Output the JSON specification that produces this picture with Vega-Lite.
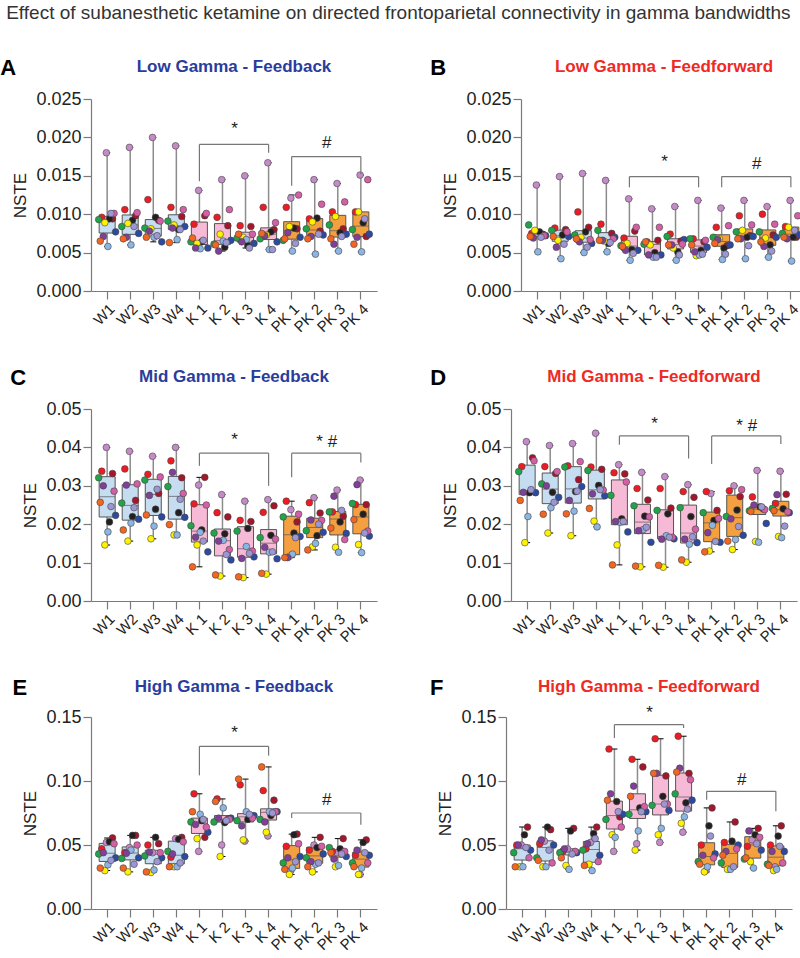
{
"$schema":"https://vega.github.io/schema/vega-lite/v6.json",
"padding":{"left":0,"top":4,"right":4,"bottom":0},
"title":{"text":"Effect of subanesthetic ketamine on directed frontoparietal connectivity in gamma bandwidths","fontSize":19,"fontWeight":"normal","color":"#333","anchor":"start","offset":34,"dx":6},
"datasets":{
"pts":[
{"p":"A","g":"W1","s":1,"v":0.0180},{"p":"A","g":"W1","s":2,"v":0.0096},{"p":"A","g":"W1","s":3,"v":0.0094},{"p":"A","g":"W1","s":4,"v":0.0094},{"p":"A","g":"W1","s":5,"v":0.0093},{"p":"A","g":"W1","s":6,"v":0.0089},{"p":"A","g":"W1","s":7,"v":0.0077},{"p":"A","g":"W1","s":8,"v":0.0058},{"p":"A","g":"W1","s":9,"v":0.0071},{"p":"A","g":"W1","s":10,"v":0.0065},{"p":"A","g":"W1","s":11,"v":0.0101},{"p":"A","g":"W1","s":12,"v":0.0101},
{"p":"A","g":"W2","s":1,"v":0.0187},{"p":"A","g":"W2","s":2,"v":0.0106},{"p":"A","g":"W2","s":3,"v":0.0098},{"p":"A","g":"W2","s":4,"v":0.0092},{"p":"A","g":"W2","s":5,"v":0.0084},{"p":"A","g":"W2","s":6,"v":0.0088},{"p":"A","g":"W2","s":7,"v":0.0075},{"p":"A","g":"W2","s":8,"v":0.0060},{"p":"A","g":"W2","s":9,"v":0.0070},{"p":"A","g":"W2","s":10,"v":0.0068},{"p":"A","g":"W2","s":11,"v":0.0102},{"p":"A","g":"W2","s":12,"v":0.0084},
{"p":"A","g":"W3","s":1,"v":0.0200},{"p":"A","g":"W3","s":2,"v":0.0119},{"p":"A","g":"W3","s":3,"v":0.0092},{"p":"A","g":"W3","s":4,"v":0.0096},{"p":"A","g":"W3","s":5,"v":0.0082},{"p":"A","g":"W3","s":6,"v":0.0081},{"p":"A","g":"W3","s":7,"v":0.0064},{"p":"A","g":"W3","s":8,"v":0.0070},{"p":"A","g":"W3","s":9,"v":0.0078},{"p":"A","g":"W3","s":10,"v":0.0070},{"p":"A","g":"W3","s":11,"v":0.0091},{"p":"A","g":"W3","s":12,"v":0.0072},
{"p":"A","g":"W4","s":1,"v":0.0189},{"p":"A","g":"W4","s":2,"v":0.0109},{"p":"A","g":"W4","s":3,"v":0.0097},{"p":"A","g":"W4","s":4,"v":0.0080},{"p":"A","g":"W4","s":5,"v":0.0091},{"p":"A","g":"W4","s":6,"v":0.0086},{"p":"A","g":"W4","s":7,"v":0.0084},{"p":"A","g":"W4","s":8,"v":0.0067},{"p":"A","g":"W4","s":9,"v":0.0082},{"p":"A","g":"W4","s":10,"v":0.0063},{"p":"A","g":"W4","s":11,"v":0.0106},{"p":"A","g":"W4","s":12,"v":0.0080},
{"p":"A","g":"K 1","s":1,"v":0.0131},{"p":"A","g":"K 1","s":2,"v":0.0087},{"p":"A","g":"K 1","s":3,"v":0.0098},{"p":"A","g":"K 1","s":4,"v":0.0064},{"p":"A","g":"K 1","s":5,"v":0.0064},{"p":"A","g":"K 1","s":6,"v":0.0062},{"p":"A","g":"K 1","s":7,"v":0.0056},{"p":"A","g":"K 1","s":8,"v":0.0055},{"p":"A","g":"K 1","s":9,"v":0.0056},{"p":"A","g":"K 1","s":10,"v":0.0069},{"p":"A","g":"K 1","s":11,"v":0.0101},{"p":"A","g":"K 1","s":12,"v":0.0066},
{"p":"A","g":"K 2","s":1,"v":0.0145},{"p":"A","g":"K 2","s":2,"v":0.0096},{"p":"A","g":"K 2","s":3,"v":0.0085},{"p":"A","g":"K 2","s":4,"v":0.0057},{"p":"A","g":"K 2","s":5,"v":0.0061},{"p":"A","g":"K 2","s":6,"v":0.0074},{"p":"A","g":"K 2","s":7,"v":0.0066},{"p":"A","g":"K 2","s":8,"v":0.0065},{"p":"A","g":"K 2","s":9,"v":0.0052},{"p":"A","g":"K 2","s":10,"v":0.0060},{"p":"A","g":"K 2","s":11,"v":0.0106},{"p":"A","g":"K 2","s":12,"v":0.0063},
{"p":"A","g":"K 3","s":1,"v":0.0150},{"p":"A","g":"K 3","s":2,"v":0.0085},{"p":"A","g":"K 3","s":3,"v":0.0084},{"p":"A","g":"K 3","s":4,"v":0.0059},{"p":"A","g":"K 3","s":5,"v":0.0069},{"p":"A","g":"K 3","s":6,"v":0.0070},{"p":"A","g":"K 3","s":7,"v":0.0062},{"p":"A","g":"K 3","s":8,"v":0.0067},{"p":"A","g":"K 3","s":9,"v":0.0064},{"p":"A","g":"K 3","s":10,"v":0.0074},{"p":"A","g":"K 3","s":11,"v":0.0074},{"p":"A","g":"K 3","s":12,"v":0.0056},
{"p":"A","g":"K 4","s":1,"v":0.0167},{"p":"A","g":"K 4","s":2,"v":0.0109},{"p":"A","g":"K 4","s":3,"v":0.0080},{"p":"A","g":"K 4","s":4,"v":0.0077},{"p":"A","g":"K 4","s":5,"v":0.0068},{"p":"A","g":"K 4","s":6,"v":0.0073},{"p":"A","g":"K 4","s":7,"v":0.0064},{"p":"A","g":"K 4","s":8,"v":0.0054},{"p":"A","g":"K 4","s":9,"v":0.0072},{"p":"A","g":"K 4","s":10,"v":0.0075},{"p":"A","g":"K 4","s":11,"v":0.0089},{"p":"A","g":"K 4","s":12,"v":0.0054},
{"p":"A","g":"PK 1","s":1,"v":0.0121},{"p":"A","g":"PK 1","s":2,"v":0.0109},{"p":"A","g":"PK 1","s":3,"v":0.0081},{"p":"A","g":"PK 1","s":4,"v":0.0082},{"p":"A","g":"PK 1","s":5,"v":0.0066},{"p":"A","g":"PK 1","s":6,"v":0.0084},{"p":"A","g":"PK 1","s":7,"v":0.0070},{"p":"A","g":"PK 1","s":8,"v":0.0052},{"p":"A","g":"PK 1","s":9,"v":0.0076},{"p":"A","g":"PK 1","s":10,"v":0.0068},{"p":"A","g":"PK 1","s":11,"v":0.0125},{"p":"A","g":"PK 1","s":12,"v":0.0062},
{"p":"A","g":"PK 2","s":1,"v":0.0145},{"p":"A","g":"PK 2","s":2,"v":0.0094},{"p":"A","g":"PK 2","s":3,"v":0.0078},{"p":"A","g":"PK 2","s":4,"v":0.0095},{"p":"A","g":"PK 2","s":5,"v":0.0081},{"p":"A","g":"PK 2","s":6,"v":0.0090},{"p":"A","g":"PK 2","s":7,"v":0.0073},{"p":"A","g":"PK 2","s":8,"v":0.0048},{"p":"A","g":"PK 2","s":9,"v":0.0071},{"p":"A","g":"PK 2","s":10,"v":0.0068},{"p":"A","g":"PK 2","s":11,"v":0.0113},{"p":"A","g":"PK 2","s":12,"v":0.0074},
{"p":"A","g":"PK 3","s":1,"v":0.0140},{"p":"A","g":"PK 3","s":2,"v":0.0103},{"p":"A","g":"PK 3","s":3,"v":0.0081},{"p":"A","g":"PK 3","s":4,"v":0.0076},{"p":"A","g":"PK 3","s":5,"v":0.0086},{"p":"A","g":"PK 3","s":6,"v":0.0097},{"p":"A","g":"PK 3","s":7,"v":0.0074},{"p":"A","g":"PK 3","s":8,"v":0.0052},{"p":"A","g":"PK 3","s":9,"v":0.0061},{"p":"A","g":"PK 3","s":10,"v":0.0068},{"p":"A","g":"PK 3","s":11,"v":0.0116},{"p":"A","g":"PK 3","s":12,"v":0.0071},
{"p":"A","g":"PK 4","s":1,"v":0.0151},{"p":"A","g":"PK 4","s":2,"v":0.0103},{"p":"A","g":"PK 4","s":3,"v":0.0071},{"p":"A","g":"PK 4","s":4,"v":0.0089},{"p":"A","g":"PK 4","s":5,"v":0.0080},{"p":"A","g":"PK 4","s":6,"v":0.0103},{"p":"A","g":"PK 4","s":7,"v":0.0074},{"p":"A","g":"PK 4","s":8,"v":0.0051},{"p":"A","g":"PK 4","s":9,"v":0.0070},{"p":"A","g":"PK 4","s":10,"v":0.0061},{"p":"A","g":"PK 4","s":11,"v":0.0145},{"p":"A","g":"PK 4","s":12,"v":0.0094},

{"p":"B","g":"W1","s":1,"v":0.0138},{"p":"B","g":"W1","s":2,"v":0.0075},{"p":"B","g":"W1","s":3,"v":0.0074},{"p":"B","g":"W1","s":4,"v":0.0077},{"p":"B","g":"W1","s":5,"v":0.0086},{"p":"B","g":"W1","s":6,"v":0.0079},{"p":"B","g":"W1","s":7,"v":0.0072},{"p":"B","g":"W1","s":8,"v":0.0051},{"p":"B","g":"W1","s":9,"v":0.0069},{"p":"B","g":"W1","s":10,"v":0.0071},{"p":"B","g":"W1","s":11,"v":0.0072},{"p":"B","g":"W1","s":12,"v":0.0070},
{"p":"B","g":"W2","s":1,"v":0.0149},{"p":"B","g":"W2","s":2,"v":0.0082},{"p":"B","g":"W2","s":3,"v":0.0080},{"p":"B","g":"W2","s":4,"v":0.0073},{"p":"B","g":"W2","s":5,"v":0.0079},{"p":"B","g":"W2","s":6,"v":0.0066},{"p":"B","g":"W2","s":7,"v":0.0071},{"p":"B","g":"W2","s":8,"v":0.0042},{"p":"B","g":"W2","s":9,"v":0.0057},{"p":"B","g":"W2","s":10,"v":0.0071},{"p":"B","g":"W2","s":11,"v":0.0077},{"p":"B","g":"W2","s":12,"v":0.0061},
{"p":"B","g":"W3","s":1,"v":0.0153},{"p":"B","g":"W3","s":2,"v":0.0103},{"p":"B","g":"W3","s":3,"v":0.0083},{"p":"B","g":"W3","s":4,"v":0.0077},{"p":"B","g":"W3","s":5,"v":0.0073},{"p":"B","g":"W3","s":6,"v":0.0070},{"p":"B","g":"W3","s":7,"v":0.0062},{"p":"B","g":"W3","s":8,"v":0.0050},{"p":"B","g":"W3","s":9,"v":0.0064},{"p":"B","g":"W3","s":10,"v":0.0068},{"p":"B","g":"W3","s":11,"v":0.0067},{"p":"B","g":"W3","s":12,"v":0.0057},
{"p":"B","g":"W4","s":1,"v":0.0144},{"p":"B","g":"W4","s":2,"v":0.0087},{"p":"B","g":"W4","s":3,"v":0.0075},{"p":"B","g":"W4","s":4,"v":0.0062},{"p":"B","g":"W4","s":5,"v":0.0079},{"p":"B","g":"W4","s":6,"v":0.0065},{"p":"B","g":"W4","s":7,"v":0.0070},{"p":"B","g":"W4","s":8,"v":0.0051},{"p":"B","g":"W4","s":9,"v":0.0066},{"p":"B","g":"W4","s":10,"v":0.0066},{"p":"B","g":"W4","s":11,"v":0.0068},{"p":"B","g":"W4","s":12,"v":0.0063},
{"p":"B","g":"K 1","s":1,"v":0.0120},{"p":"B","g":"K 1","s":2,"v":0.0069},{"p":"B","g":"K 1","s":3,"v":0.0078},{"p":"B","g":"K 1","s":4,"v":0.0054},{"p":"B","g":"K 1","s":5,"v":0.0059},{"p":"B","g":"K 1","s":6,"v":0.0062},{"p":"B","g":"K 1","s":7,"v":0.0053},{"p":"B","g":"K 1","s":8,"v":0.0040},{"p":"B","g":"K 1","s":9,"v":0.0053},{"p":"B","g":"K 1","s":10,"v":0.0058},{"p":"B","g":"K 1","s":11,"v":0.0083},{"p":"B","g":"K 1","s":12,"v":0.0049},
{"p":"B","g":"K 2","s":1,"v":0.0107},{"p":"B","g":"K 2","s":2,"v":0.0064},{"p":"B","g":"K 2","s":3,"v":0.0066},{"p":"B","g":"K 2","s":4,"v":0.0050},{"p":"B","g":"K 2","s":5,"v":0.0061},{"p":"B","g":"K 2","s":6,"v":0.0060},{"p":"B","g":"K 2","s":7,"v":0.0047},{"p":"B","g":"K 2","s":8,"v":0.0044},{"p":"B","g":"K 2","s":9,"v":0.0047},{"p":"B","g":"K 2","s":10,"v":0.0064},{"p":"B","g":"K 2","s":11,"v":0.0083},{"p":"B","g":"K 2","s":12,"v":0.0044},
{"p":"B","g":"K 3","s":1,"v":0.0110},{"p":"B","g":"K 3","s":2,"v":0.0074},{"p":"B","g":"K 3","s":3,"v":0.0065},{"p":"B","g":"K 3","s":4,"v":0.0051},{"p":"B","g":"K 3","s":5,"v":0.0071},{"p":"B","g":"K 3","s":6,"v":0.0056},{"p":"B","g":"K 3","s":7,"v":0.0067},{"p":"B","g":"K 3","s":8,"v":0.0040},{"p":"B","g":"K 3","s":9,"v":0.0060},{"p":"B","g":"K 3","s":10,"v":0.0060},{"p":"B","g":"K 3","s":11,"v":0.0061},{"p":"B","g":"K 3","s":12,"v":0.0047},
{"p":"B","g":"K 4","s":1,"v":0.0118},{"p":"B","g":"K 4","s":2,"v":0.0068},{"p":"B","g":"K 4","s":3,"v":0.0064},{"p":"B","g":"K 4","s":4,"v":0.0053},{"p":"B","g":"K 4","s":5,"v":0.0068},{"p":"B","g":"K 4","s":6,"v":0.0046},{"p":"B","g":"K 4","s":7,"v":0.0057},{"p":"B","g":"K 4","s":8,"v":0.0047},{"p":"B","g":"K 4","s":9,"v":0.0051},{"p":"B","g":"K 4","s":10,"v":0.0060},{"p":"B","g":"K 4","s":11,"v":0.0066},{"p":"B","g":"K 4","s":12,"v":0.0048},
{"p":"B","g":"PK 1","s":1,"v":0.0108},{"p":"B","g":"PK 1","s":2,"v":0.0083},{"p":"B","g":"PK 1","s":3,"v":0.0059},{"p":"B","g":"PK 1","s":4,"v":0.0056},{"p":"B","g":"PK 1","s":5,"v":0.0070},{"p":"B","g":"PK 1","s":6,"v":0.0068},{"p":"B","g":"PK 1","s":7,"v":0.0060},{"p":"B","g":"PK 1","s":8,"v":0.0041},{"p":"B","g":"PK 1","s":9,"v":0.0067},{"p":"B","g":"PK 1","s":10,"v":0.0062},{"p":"B","g":"PK 1","s":11,"v":0.0085},{"p":"B","g":"PK 1","s":12,"v":0.0048},
{"p":"B","g":"PK 2","s":1,"v":0.0118},{"p":"B","g":"PK 2","s":2,"v":0.0098},{"p":"B","g":"PK 2","s":3,"v":0.0072},{"p":"B","g":"PK 2","s":4,"v":0.0070},{"p":"B","g":"PK 2","s":5,"v":0.0077},{"p":"B","g":"PK 2","s":6,"v":0.0079},{"p":"B","g":"PK 2","s":7,"v":0.0071},{"p":"B","g":"PK 2","s":8,"v":0.0042},{"p":"B","g":"PK 2","s":9,"v":0.0068},{"p":"B","g":"PK 2","s":10,"v":0.0068},{"p":"B","g":"PK 2","s":11,"v":0.0086},{"p":"B","g":"PK 2","s":12,"v":0.0059},
{"p":"B","g":"PK 3","s":1,"v":0.0110},{"p":"B","g":"PK 3","s":2,"v":0.0100},{"p":"B","g":"PK 3","s":3,"v":0.0073},{"p":"B","g":"PK 3","s":4,"v":0.0060},{"p":"B","g":"PK 3","s":5,"v":0.0077},{"p":"B","g":"PK 3","s":6,"v":0.0069},{"p":"B","g":"PK 3","s":7,"v":0.0070},{"p":"B","g":"PK 3","s":8,"v":0.0044},{"p":"B","g":"PK 3","s":9,"v":0.0058},{"p":"B","g":"PK 3","s":10,"v":0.0064},{"p":"B","g":"PK 3","s":11,"v":0.0087},{"p":"B","g":"PK 3","s":12,"v":0.0052},
{"p":"B","g":"PK 4","s":1,"v":0.0118},{"p":"B","g":"PK 4","s":2,"v":0.0084},{"p":"B","g":"PK 4","s":3,"v":0.0070},{"p":"B","g":"PK 4","s":4,"v":0.0070},{"p":"B","g":"PK 4","s":5,"v":0.0075},{"p":"B","g":"PK 4","s":6,"v":0.0083},{"p":"B","g":"PK 4","s":7,"v":0.0073},{"p":"B","g":"PK 4","s":8,"v":0.0039},{"p":"B","g":"PK 4","s":9,"v":0.0068},{"p":"B","g":"PK 4","s":10,"v":0.0070},{"p":"B","g":"PK 4","s":11,"v":0.0098},{"p":"B","g":"PK 4","s":12,"v":0.0079},

{"p":"C","g":"W1","s":1,"v":0.0400},{"p":"C","g":"W1","s":2,"v":0.0338},{"p":"C","g":"W1","s":3,"v":0.0332},{"p":"C","g":"W1","s":4,"v":0.0206},{"p":"C","g":"W1","s":5,"v":0.0321},{"p":"C","g":"W1","s":6,"v":0.0146},{"p":"C","g":"W1","s":7,"v":0.0223},{"p":"C","g":"W1","s":8,"v":0.0180},{"p":"C","g":"W1","s":9,"v":0.0300},{"p":"C","g":"W1","s":10,"v":0.0257},{"p":"C","g":"W1","s":11,"v":0.0286},{"p":"C","g":"W1","s":12,"v":0.0246},
{"p":"C","g":"W2","s":1,"v":0.0390},{"p":"C","g":"W2","s":2,"v":0.0344},{"p":"C","g":"W2","s":3,"v":0.0262},{"p":"C","g":"W2","s":4,"v":0.0220},{"p":"C","g":"W2","s":5,"v":0.0255},{"p":"C","g":"W2","s":6,"v":0.0156},{"p":"C","g":"W2","s":7,"v":0.0213},{"p":"C","g":"W2","s":8,"v":0.0203},{"p":"C","g":"W2","s":9,"v":0.0302},{"p":"C","g":"W2","s":10,"v":0.0185},{"p":"C","g":"W2","s":11,"v":0.0305},{"p":"C","g":"W2","s":12,"v":0.0243},
{"p":"C","g":"W3","s":1,"v":0.0377},{"p":"C","g":"W3","s":2,"v":0.0330},{"p":"C","g":"W3","s":3,"v":0.0280},{"p":"C","g":"W3","s":4,"v":0.0239},{"p":"C","g":"W3","s":5,"v":0.0315},{"p":"C","g":"W3","s":6,"v":0.0162},{"p":"C","g":"W3","s":7,"v":0.0219},{"p":"C","g":"W3","s":8,"v":0.0195},{"p":"C","g":"W3","s":9,"v":0.0275},{"p":"C","g":"W3","s":10,"v":0.0224},{"p":"C","g":"W3","s":11,"v":0.0323},{"p":"C","g":"W3","s":12,"v":0.0291},
{"p":"C","g":"W4","s":1,"v":0.0400},{"p":"C","g":"W4","s":2,"v":0.0365},{"p":"C","g":"W4","s":3,"v":0.0321},{"p":"C","g":"W4","s":4,"v":0.0230},{"p":"C","g":"W4","s":5,"v":0.0298},{"p":"C","g":"W4","s":6,"v":0.0172},{"p":"C","g":"W4","s":7,"v":0.0218},{"p":"C","g":"W4","s":8,"v":0.0172},{"p":"C","g":"W4","s":9,"v":0.0335},{"p":"C","g":"W4","s":10,"v":0.0199},{"p":"C","g":"W4","s":11,"v":0.0280},{"p":"C","g":"W4","s":12,"v":0.0265},
{"p":"C","g":"K 1","s":1,"v":0.0302},{"p":"C","g":"K 1","s":2,"v":0.0253},{"p":"C","g":"K 1","s":3,"v":0.0322},{"p":"C","g":"K 1","s":4,"v":0.0185},{"p":"C","g":"K 1","s":5,"v":0.0196},{"p":"C","g":"K 1","s":6,"v":0.0146},{"p":"C","g":"K 1","s":7,"v":0.0128},{"p":"C","g":"K 1","s":8,"v":0.0179},{"p":"C","g":"K 1","s":9,"v":0.0166},{"p":"C","g":"K 1","s":10,"v":0.0089},{"p":"C","g":"K 1","s":11,"v":0.0250},{"p":"C","g":"K 1","s":12,"v":0.0156},
{"p":"C","g":"K 2","s":1,"v":0.0277},{"p":"C","g":"K 2","s":2,"v":0.0230},{"p":"C","g":"K 2","s":3,"v":0.0219},{"p":"C","g":"K 2","s":4,"v":0.0175},{"p":"C","g":"K 2","s":5,"v":0.0177},{"p":"C","g":"K 2","s":6,"v":0.0065},{"p":"C","g":"K 2","s":7,"v":0.0107},{"p":"C","g":"K 2","s":8,"v":0.0158},{"p":"C","g":"K 2","s":9,"v":0.0156},{"p":"C","g":"K 2","s":10,"v":0.0068},{"p":"C","g":"K 2","s":11,"v":0.0134},{"p":"C","g":"K 2","s":12,"v":0.0121},
{"p":"C","g":"K 3","s":1,"v":0.0260},{"p":"C","g":"K 3","s":2,"v":0.0210},{"p":"C","g":"K 3","s":3,"v":0.0207},{"p":"C","g":"K 3","s":4,"v":0.0189},{"p":"C","g":"K 3","s":5,"v":0.0182},{"p":"C","g":"K 3","s":6,"v":0.0061},{"p":"C","g":"K 3","s":7,"v":0.0115},{"p":"C","g":"K 3","s":8,"v":0.0142},{"p":"C","g":"K 3","s":9,"v":0.0111},{"p":"C","g":"K 3","s":10,"v":0.0063},{"p":"C","g":"K 3","s":11,"v":0.0130},{"p":"C","g":"K 3","s":12,"v":0.0124},
{"p":"C","g":"K 4","s":1,"v":0.0264},{"p":"C","g":"K 4","s":2,"v":0.0231},{"p":"C","g":"K 4","s":3,"v":0.0248},{"p":"C","g":"K 4","s":4,"v":0.0171},{"p":"C","g":"K 4","s":5,"v":0.0165},{"p":"C","g":"K 4","s":6,"v":0.0070},{"p":"C","g":"K 4","s":7,"v":0.0110},{"p":"C","g":"K 4","s":8,"v":0.0127},{"p":"C","g":"K 4","s":9,"v":0.0140},{"p":"C","g":"K 4","s":10,"v":0.0072},{"p":"C","g":"K 4","s":11,"v":0.0161},{"p":"C","g":"K 4","s":12,"v":0.0128},
{"p":"C","g":"PK 1","s":1,"v":0.0238},{"p":"C","g":"PK 1","s":2,"v":0.0260},{"p":"C","g":"PK 1","s":3,"v":0.0206},{"p":"C","g":"PK 1","s":4,"v":0.0177},{"p":"C","g":"PK 1","s":5,"v":0.0219},{"p":"C","g":"PK 1","s":6,"v":0.0116},{"p":"C","g":"PK 1","s":7,"v":0.0168},{"p":"C","g":"PK 1","s":8,"v":0.0122},{"p":"C","g":"PK 1","s":9,"v":0.0113},{"p":"C","g":"PK 1","s":10,"v":0.0113},{"p":"C","g":"PK 1","s":11,"v":0.0226},{"p":"C","g":"PK 1","s":12,"v":0.0165},
{"p":"C","g":"PK 2","s":1,"v":0.0269},{"p":"C","g":"PK 2","s":2,"v":0.0256},{"p":"C","g":"PK 2","s":3,"v":0.0229},{"p":"C","g":"PK 2","s":4,"v":0.0170},{"p":"C","g":"PK 2","s":5,"v":0.0183},{"p":"C","g":"PK 2","s":6,"v":0.0141},{"p":"C","g":"PK 2","s":7,"v":0.0179},{"p":"C","g":"PK 2","s":8,"v":0.0150},{"p":"C","g":"PK 2","s":9,"v":0.0211},{"p":"C","g":"PK 2","s":10,"v":0.0133},{"p":"C","g":"PK 2","s":11,"v":0.0210},{"p":"C","g":"PK 2","s":12,"v":0.0200},
{"p":"C","g":"PK 3","s":1,"v":0.0289},{"p":"C","g":"PK 3","s":2,"v":0.0232},{"p":"C","g":"PK 3","s":3,"v":0.0221},{"p":"C","g":"PK 3","s":4,"v":0.0206},{"p":"C","g":"PK 3","s":5,"v":0.0232},{"p":"C","g":"PK 3","s":6,"v":0.0140},{"p":"C","g":"PK 3","s":7,"v":0.0176},{"p":"C","g":"PK 3","s":8,"v":0.0127},{"p":"C","g":"PK 3","s":9,"v":0.0273},{"p":"C","g":"PK 3","s":10,"v":0.0190},{"p":"C","g":"PK 3","s":11,"v":0.0160},{"p":"C","g":"PK 3","s":12,"v":0.0236},
{"p":"C","g":"PK 4","s":1,"v":0.0315},{"p":"C","g":"PK 4","s":2,"v":0.0251},{"p":"C","g":"PK 4","s":3,"v":0.0251},{"p":"C","g":"PK 4","s":4,"v":0.0226},{"p":"C","g":"PK 4","s":5,"v":0.0254},{"p":"C","g":"PK 4","s":6,"v":0.0147},{"p":"C","g":"PK 4","s":7,"v":0.0169},{"p":"C","g":"PK 4","s":8,"v":0.0126},{"p":"C","g":"PK 4","s":9,"v":0.0303},{"p":"C","g":"PK 4","s":10,"v":0.0212},{"p":"C","g":"PK 4","s":11,"v":0.0182},{"p":"C","g":"PK 4","s":12,"v":0.0177},

{"p":"D","g":"W1","s":1,"v":0.0415},{"p":"D","g":"W1","s":2,"v":0.0350},{"p":"D","g":"W1","s":3,"v":0.0373},{"p":"D","g":"W1","s":4,"v":0.0282},{"p":"D","g":"W1","s":5,"v":0.0337},{"p":"D","g":"W1","s":6,"v":0.0152},{"p":"D","g":"W1","s":7,"v":0.0282},{"p":"D","g":"W1","s":8,"v":0.0220},{"p":"D","g":"W1","s":9,"v":0.0283},{"p":"D","g":"W1","s":10,"v":0.0262},{"p":"D","g":"W1","s":11,"v":0.0365},{"p":"D","g":"W1","s":12,"v":0.0290},
{"p":"D","g":"W2","s":1,"v":0.0405},{"p":"D","g":"W2","s":2,"v":0.0350},{"p":"D","g":"W2","s":3,"v":0.0332},{"p":"D","g":"W2","s":4,"v":0.0283},{"p":"D","g":"W2","s":5,"v":0.0305},{"p":"D","g":"W2","s":6,"v":0.0177},{"p":"D","g":"W2","s":7,"v":0.0270},{"p":"D","g":"W2","s":8,"v":0.0243},{"p":"D","g":"W2","s":9,"v":0.0300},{"p":"D","g":"W2","s":10,"v":0.0226},{"p":"D","g":"W2","s":11,"v":0.0337},{"p":"D","g":"W2","s":12,"v":0.0257},
{"p":"D","g":"W3","s":1,"v":0.0410},{"p":"D","g":"W3","s":2,"v":0.0352},{"p":"D","g":"W3","s":3,"v":0.0316},{"p":"D","g":"W3","s":4,"v":0.0285},{"p":"D","g":"W3","s":5,"v":0.0349},{"p":"D","g":"W3","s":6,"v":0.0170},{"p":"D","g":"W3","s":7,"v":0.0298},{"p":"D","g":"W3","s":8,"v":0.0234},{"p":"D","g":"W3","s":9,"v":0.0262},{"p":"D","g":"W3","s":10,"v":0.0227},{"p":"D","g":"W3","s":11,"v":0.0363},{"p":"D","g":"W3","s":12,"v":0.0286},
{"p":"D","g":"W4","s":1,"v":0.0437},{"p":"D","g":"W4","s":2,"v":0.0349},{"p":"D","g":"W4","s":3,"v":0.0343},{"p":"D","g":"W4","s":4,"v":0.0301},{"p":"D","g":"W4","s":5,"v":0.0340},{"p":"D","g":"W4","s":6,"v":0.0208},{"p":"D","g":"W4","s":7,"v":0.0274},{"p":"D","g":"W4","s":8,"v":0.0193},{"p":"D","g":"W4","s":9,"v":0.0279},{"p":"D","g":"W4","s":10,"v":0.0241},{"p":"D","g":"W4","s":11,"v":0.0289},{"p":"D","g":"W4","s":12,"v":0.0290},
{"p":"D","g":"K 1","s":1,"v":0.0355},{"p":"D","g":"K 1","s":2,"v":0.0334},{"p":"D","g":"K 1","s":3,"v":0.0331},{"p":"D","g":"K 1","s":4,"v":0.0214},{"p":"D","g":"K 1","s":5,"v":0.0275},{"p":"D","g":"K 1","s":6,"v":0.0146},{"p":"D","g":"K 1","s":7,"v":0.0180},{"p":"D","g":"K 1","s":8,"v":0.0205},{"p":"D","g":"K 1","s":9,"v":0.0207},{"p":"D","g":"K 1","s":10,"v":0.0094},{"p":"D","g":"K 1","s":11,"v":0.0310},{"p":"D","g":"K 1","s":12,"v":0.0207},
{"p":"D","g":"K 2","s":1,"v":0.0335},{"p":"D","g":"K 2","s":2,"v":0.0293},{"p":"D","g":"K 2","s":3,"v":0.0263},{"p":"D","g":"K 2","s":4,"v":0.0221},{"p":"D","g":"K 2","s":5,"v":0.0248},{"p":"D","g":"K 2","s":6,"v":0.0089},{"p":"D","g":"K 2","s":7,"v":0.0153},{"p":"D","g":"K 2","s":8,"v":0.0186},{"p":"D","g":"K 2","s":9,"v":0.0183},{"p":"D","g":"K 2","s":10,"v":0.0091},{"p":"D","g":"K 2","s":11,"v":0.0219},{"p":"D","g":"K 2","s":12,"v":0.0192},
{"p":"D","g":"K 3","s":1,"v":0.0324},{"p":"D","g":"K 3","s":2,"v":0.0293},{"p":"D","g":"K 3","s":3,"v":0.0242},{"p":"D","g":"K 3","s":4,"v":0.0227},{"p":"D","g":"K 3","s":5,"v":0.0236},{"p":"D","g":"K 3","s":6,"v":0.0088},{"p":"D","g":"K 3","s":7,"v":0.0162},{"p":"D","g":"K 3","s":8,"v":0.0170},{"p":"D","g":"K 3","s":9,"v":0.0161},{"p":"D","g":"K 3","s":10,"v":0.0093},{"p":"D","g":"K 3","s":11,"v":0.0166},{"p":"D","g":"K 3","s":12,"v":0.0166},
{"p":"D","g":"K 4","s":1,"v":0.0303},{"p":"D","g":"K 4","s":2,"v":0.0285},{"p":"D","g":"K 4","s":3,"v":0.0270},{"p":"D","g":"K 4","s":4,"v":0.0220},{"p":"D","g":"K 4","s":5,"v":0.0243},{"p":"D","g":"K 4","s":6,"v":0.0101},{"p":"D","g":"K 4","s":7,"v":0.0152},{"p":"D","g":"K 4","s":8,"v":0.0148},{"p":"D","g":"K 4","s":9,"v":0.0161},{"p":"D","g":"K 4","s":10,"v":0.0107},{"p":"D","g":"K 4","s":11,"v":0.0187},{"p":"D","g":"K 4","s":12,"v":0.0167},
{"p":"D","g":"PK 1","s":1,"v":0.0280},{"p":"D","g":"PK 1","s":2,"v":0.0285},{"p":"D","g":"PK 1","s":3,"v":0.0236},{"p":"D","g":"PK 1","s":4,"v":0.0210},{"p":"D","g":"PK 1","s":5,"v":0.0230},{"p":"D","g":"PK 1","s":6,"v":0.0130},{"p":"D","g":"PK 1","s":7,"v":0.0153},{"p":"D","g":"PK 1","s":8,"v":0.0197},{"p":"D","g":"PK 1","s":9,"v":0.0178},{"p":"D","g":"PK 1","s":10,"v":0.0128},{"p":"D","g":"PK 1","s":11,"v":0.0215},{"p":"D","g":"PK 1","s":12,"v":0.0155},
{"p":"D","g":"PK 2","s":1,"v":0.0300},{"p":"D","g":"PK 2","s":2,"v":0.0287},{"p":"D","g":"PK 2","s":3,"v":0.0272},{"p":"D","g":"PK 2","s":4,"v":0.0237},{"p":"D","g":"PK 2","s":5,"v":0.0220},{"p":"D","g":"PK 2","s":6,"v":0.0134},{"p":"D","g":"PK 2","s":7,"v":0.0171},{"p":"D","g":"PK 2","s":8,"v":0.0160},{"p":"D","g":"PK 2","s":9,"v":0.0214},{"p":"D","g":"PK 2","s":10,"v":0.0156},{"p":"D","g":"PK 2","s":11,"v":0.0290},{"p":"D","g":"PK 2","s":12,"v":0.0194},
{"p":"D","g":"PK 3","s":1,"v":0.0340},{"p":"D","g":"PK 3","s":2,"v":0.0271},{"p":"D","g":"PK 3","s":3,"v":0.0240},{"p":"D","g":"PK 3","s":4,"v":0.0245},{"p":"D","g":"PK 3","s":5,"v":0.0235},{"p":"D","g":"PK 3","s":6,"v":0.0155},{"p":"D","g":"PK 3","s":7,"v":0.0202},{"p":"D","g":"PK 3","s":8,"v":0.0153},{"p":"D","g":"PK 3","s":9,"v":0.0250},{"p":"D","g":"PK 3","s":10,"v":0.0233},{"p":"D","g":"PK 3","s":11,"v":0.0238},{"p":"D","g":"PK 3","s":12,"v":0.0245},
{"p":"D","g":"PK 4","s":1,"v":0.0338},{"p":"D","g":"PK 4","s":2,"v":0.0254},{"p":"D","g":"PK 4","s":3,"v":0.0278},{"p":"D","g":"PK 4","s":4,"v":0.0240},{"p":"D","g":"PK 4","s":5,"v":0.0241},{"p":"D","g":"PK 4","s":6,"v":0.0168},{"p":"D","g":"PK 4","s":7,"v":0.0230},{"p":"D","g":"PK 4","s":8,"v":0.0165},{"p":"D","g":"PK 4","s":9,"v":0.0277},{"p":"D","g":"PK 4","s":10,"v":0.0235},{"p":"D","g":"PK 4","s":11,"v":0.0232},{"p":"D","g":"PK 4","s":12,"v":0.0195},

{"p":"E","g":"W1","s":1,"v":0.0520},{"p":"E","g":"W1","s":2,"v":0.0470},{"p":"E","g":"W1","s":3,"v":0.0555},{"p":"E","g":"W1","s":4,"v":0.0525},{"p":"E","g":"W1","s":5,"v":0.0430},{"p":"E","g":"W1","s":6,"v":0.0300},{"p":"E","g":"W1","s":7,"v":0.0400},{"p":"E","g":"W1","s":8,"v":0.0345},{"p":"E","g":"W1","s":9,"v":0.0440},{"p":"E","g":"W1","s":10,"v":0.0320},{"p":"E","g":"W1","s":11,"v":0.0510},{"p":"E","g":"W1","s":12,"v":0.0380},
{"p":"E","g":"W2","s":1,"v":0.0480},{"p":"E","g":"W2","s":2,"v":0.0440},{"p":"E","g":"W2","s":3,"v":0.0575},{"p":"E","g":"W2","s":4,"v":0.0575},{"p":"E","g":"W2","s":5,"v":0.0395},{"p":"E","g":"W2","s":6,"v":0.0290},{"p":"E","g":"W2","s":7,"v":0.0400},{"p":"E","g":"W2","s":8,"v":0.0460},{"p":"E","g":"W2","s":9,"v":0.0435},{"p":"E","g":"W2","s":10,"v":0.0320},{"p":"E","g":"W2","s":11,"v":0.0500},{"p":"E","g":"W2","s":12,"v":0.0350},
{"p":"E","g":"W3","s":1,"v":0.0440},{"p":"E","g":"W3","s":2,"v":0.0500},{"p":"E","g":"W3","s":3,"v":0.0510},{"p":"E","g":"W3","s":4,"v":0.0560},{"p":"E","g":"W3","s":5,"v":0.0415},{"p":"E","g":"W3","s":6,"v":0.0285},{"p":"E","g":"W3","s":7,"v":0.0400},{"p":"E","g":"W3","s":8,"v":0.0305},{"p":"E","g":"W3","s":9,"v":0.0445},{"p":"E","g":"W3","s":10,"v":0.0290},{"p":"E","g":"W3","s":11,"v":0.0440},{"p":"E","g":"W3","s":12,"v":0.0370},
{"p":"E","g":"W4","s":1,"v":0.0550},{"p":"E","g":"W4","s":2,"v":0.0405},{"p":"E","g":"W4","s":3,"v":0.0560},{"p":"E","g":"W4","s":4,"v":0.0545},{"p":"E","g":"W4","s":5,"v":0.0450},{"p":"E","g":"W4","s":6,"v":0.0330},{"p":"E","g":"W4","s":7,"v":0.0410},{"p":"E","g":"W4","s":8,"v":0.0330},{"p":"E","g":"W4","s":9,"v":0.0430},{"p":"E","g":"W4","s":10,"v":0.0330},{"p":"E","g":"W4","s":11,"v":0.0525},{"p":"E","g":"W4","s":12,"v":0.0360},
{"p":"E","g":"K 1","s":1,"v":0.0450},{"p":"E","g":"K 1","s":2,"v":0.0900},{"p":"E","g":"K 1","s":3,"v":0.0560},{"p":"E","g":"K 1","s":4,"v":0.0690},{"p":"E","g":"K 1","s":5,"v":0.0680},{"p":"E","g":"K 1","s":6,"v":0.0550},{"p":"E","g":"K 1","s":7,"v":0.0600},{"p":"E","g":"K 1","s":8,"v":0.0740},{"p":"E","g":"K 1","s":9,"v":0.0660},{"p":"E","g":"K 1","s":10,"v":0.0760},{"p":"E","g":"K 1","s":11,"v":0.0640},{"p":"E","g":"K 1","s":12,"v":0.0700},
{"p":"E","g":"K 2","s":1,"v":0.0500},{"p":"E","g":"K 2","s":2,"v":0.0860},{"p":"E","g":"K 2","s":3,"v":0.0700},{"p":"E","g":"K 2","s":4,"v":0.0675},{"p":"E","g":"K 2","s":5,"v":0.0680},{"p":"E","g":"K 2","s":6,"v":0.0410},{"p":"E","g":"K 2","s":7,"v":0.0710},{"p":"E","g":"K 2","s":8,"v":0.0790},{"p":"E","g":"K 2","s":9,"v":0.0710},{"p":"E","g":"K 2","s":10,"v":0.0840},{"p":"E","g":"K 2","s":11,"v":0.0700},{"p":"E","g":"K 2","s":12,"v":0.0690},
{"p":"E","g":"K 3","s":1,"v":0.0530},{"p":"E","g":"K 3","s":2,"v":0.0970},{"p":"E","g":"K 3","s":3,"v":0.0730},{"p":"E","g":"K 3","s":4,"v":0.0700},{"p":"E","g":"K 3","s":5,"v":0.0690},{"p":"E","g":"K 3","s":6,"v":0.0540},{"p":"E","g":"K 3","s":7,"v":0.0730},{"p":"E","g":"K 3","s":8,"v":0.0760},{"p":"E","g":"K 3","s":9,"v":0.0650},{"p":"E","g":"K 3","s":10,"v":0.1015},{"p":"E","g":"K 3","s":11,"v":0.0710},{"p":"E","g":"K 3","s":12,"v":0.0740},
{"p":"E","g":"K 4","s":1,"v":0.0570},{"p":"E","g":"K 4","s":2,"v":0.0925},{"p":"E","g":"K 4","s":3,"v":0.0850},{"p":"E","g":"K 4","s":4,"v":0.0730},{"p":"E","g":"K 4","s":5,"v":0.0700},{"p":"E","g":"K 4","s":6,"v":0.0600},{"p":"E","g":"K 4","s":7,"v":0.0760},{"p":"E","g":"K 4","s":8,"v":0.0760},{"p":"E","g":"K 4","s":9,"v":0.0680},{"p":"E","g":"K 4","s":10,"v":0.1110},{"p":"E","g":"K 4","s":11,"v":0.0760},{"p":"E","g":"K 4","s":12,"v":0.0750},
{"p":"E","g":"PK 1","s":1,"v":0.0300},{"p":"E","g":"PK 1","s":2,"v":0.0490},{"p":"E","g":"PK 1","s":3,"v":0.0585},{"p":"E","g":"PK 1","s":4,"v":0.0580},{"p":"E","g":"PK 1","s":5,"v":0.0360},{"p":"E","g":"PK 1","s":6,"v":0.0270},{"p":"E","g":"PK 1","s":7,"v":0.0410},{"p":"E","g":"PK 1","s":8,"v":0.0320},{"p":"E","g":"PK 1","s":9,"v":0.0400},{"p":"E","g":"PK 1","s":10,"v":0.0310},{"p":"E","g":"PK 1","s":11,"v":0.0510},{"p":"E","g":"PK 1","s":12,"v":0.0370},
{"p":"E","g":"PK 2","s":1,"v":0.0500},{"p":"E","g":"PK 2","s":2,"v":0.0460},{"p":"E","g":"PK 2","s":3,"v":0.0560},{"p":"E","g":"PK 2","s":4,"v":0.0480},{"p":"E","g":"PK 2","s":5,"v":0.0400},{"p":"E","g":"PK 2","s":6,"v":0.0290},{"p":"E","g":"PK 2","s":7,"v":0.0430},{"p":"E","g":"PK 2","s":8,"v":0.0350},{"p":"E","g":"PK 2","s":9,"v":0.0370},{"p":"E","g":"PK 2","s":10,"v":0.0330},{"p":"E","g":"PK 2","s":11,"v":0.0490},{"p":"E","g":"PK 2","s":12,"v":0.0360},
{"p":"E","g":"PK 3","s":1,"v":0.0440},{"p":"E","g":"PK 3","s":2,"v":0.0450},{"p":"E","g":"PK 3","s":3,"v":0.0550},{"p":"E","g":"PK 3","s":4,"v":0.0470},{"p":"E","g":"PK 3","s":5,"v":0.0480},{"p":"E","g":"PK 3","s":6,"v":0.0330},{"p":"E","g":"PK 3","s":7,"v":0.0410},{"p":"E","g":"PK 3","s":8,"v":0.0340},{"p":"E","g":"PK 3","s":9,"v":0.0390},{"p":"E","g":"PK 3","s":10,"v":0.0440},{"p":"E","g":"PK 3","s":11,"v":0.0450},{"p":"E","g":"PK 3","s":12,"v":0.0430},
{"p":"E","g":"PK 4","s":1,"v":0.0270},{"p":"E","g":"PK 4","s":2,"v":0.0420},{"p":"E","g":"PK 4","s":3,"v":0.0540},{"p":"E","g":"PK 4","s":4,"v":0.0520},{"p":"E","g":"PK 4","s":5,"v":0.0360},{"p":"E","g":"PK 4","s":6,"v":0.0270},{"p":"E","g":"PK 4","s":7,"v":0.0420},{"p":"E","g":"PK 4","s":8,"v":0.0320},{"p":"E","g":"PK 4","s":9,"v":0.0460},{"p":"E","g":"PK 4","s":10,"v":0.0330},{"p":"E","g":"PK 4","s":11,"v":0.0360},{"p":"E","g":"PK 4","s":12,"v":0.0440},

{"p":"F","g":"W1","s":1,"v":0.0500},{"p":"F","g":"W1","s":2,"v":0.0500},{"p":"F","g":"W1","s":3,"v":0.0640},{"p":"F","g":"W1","s":4,"v":0.0580},{"p":"F","g":"W1","s":5,"v":0.0440},{"p":"F","g":"W1","s":6,"v":0.0330},{"p":"F","g":"W1","s":7,"v":0.0460},{"p":"F","g":"W1","s":8,"v":0.0330},{"p":"F","g":"W1","s":9,"v":0.0500},{"p":"F","g":"W1","s":10,"v":0.0330},{"p":"F","g":"W1","s":11,"v":0.0400},{"p":"F","g":"W1","s":12,"v":0.0480},
{"p":"F","g":"W2","s":1,"v":0.0530},{"p":"F","g":"W2","s":2,"v":0.0510},{"p":"F","g":"W2","s":3,"v":0.0620},{"p":"F","g":"W2","s":4,"v":0.0640},{"p":"F","g":"W2","s":5,"v":0.0400},{"p":"F","g":"W2","s":6,"v":0.0330},{"p":"F","g":"W2","s":7,"v":0.0500},{"p":"F","g":"W2","s":8,"v":0.0330},{"p":"F","g":"W2","s":9,"v":0.0540},{"p":"F","g":"W2","s":10,"v":0.0380},{"p":"F","g":"W2","s":11,"v":0.0360},{"p":"F","g":"W2","s":12,"v":0.0460},
{"p":"F","g":"W3","s":1,"v":0.0470},{"p":"F","g":"W3","s":2,"v":0.0450},{"p":"F","g":"W3","s":3,"v":0.0630},{"p":"F","g":"W3","s":4,"v":0.0610},{"p":"F","g":"W3","s":5,"v":0.0440},{"p":"F","g":"W3","s":6,"v":0.0340},{"p":"F","g":"W3","s":7,"v":0.0440},{"p":"F","g":"W3","s":8,"v":0.0310},{"p":"F","g":"W3","s":9,"v":0.0470},{"p":"F","g":"W3","s":10,"v":0.0400},{"p":"F","g":"W3","s":11,"v":0.0450},{"p":"F","g":"W3","s":12,"v":0.0430},
{"p":"F","g":"W4","s":1,"v":0.0520},{"p":"F","g":"W4","s":2,"v":0.0470},{"p":"F","g":"W4","s":3,"v":0.0640},{"p":"F","g":"W4","s":4,"v":0.0590},{"p":"F","g":"W4","s":5,"v":0.0460},{"p":"F","g":"W4","s":6,"v":0.0350},{"p":"F","g":"W4","s":7,"v":0.0420},{"p":"F","g":"W4","s":8,"v":0.0300},{"p":"F","g":"W4","s":9,"v":0.0510},{"p":"F","g":"W4","s":10,"v":0.0340},{"p":"F","g":"W4","s":11,"v":0.0370},{"p":"F","g":"W4","s":12,"v":0.0550},
{"p":"F","g":"K 1","s":1,"v":0.0450},{"p":"F","g":"K 1","s":2,"v":0.1250},{"p":"F","g":"K 1","s":3,"v":0.0720},{"p":"F","g":"K 1","s":4,"v":0.0840},{"p":"F","g":"K 1","s":5,"v":0.0700},{"p":"F","g":"K 1","s":6,"v":0.0580},{"p":"F","g":"K 1","s":7,"v":0.0740},{"p":"F","g":"K 1","s":8,"v":0.0560},{"p":"F","g":"K 1","s":9,"v":0.0900},{"p":"F","g":"K 1","s":10,"v":0.0850},{"p":"F","g":"K 1","s":11,"v":0.0640},{"p":"F","g":"K 1","s":12,"v":0.0760},
{"p":"F","g":"K 2","s":1,"v":0.0510},{"p":"F","g":"K 2","s":2,"v":0.1170},{"p":"F","g":"K 2","s":3,"v":0.1110},{"p":"F","g":"K 2","s":4,"v":0.0790},{"p":"F","g":"K 2","s":5,"v":0.0740},{"p":"F","g":"K 2","s":6,"v":0.0460},{"p":"F","g":"K 2","s":7,"v":0.0760},{"p":"F","g":"K 2","s":8,"v":0.0610},{"p":"F","g":"K 2","s":9,"v":0.0960},{"p":"F","g":"K 2","s":10,"v":0.0880},{"p":"F","g":"K 2","s":11,"v":0.0800},{"p":"F","g":"K 2","s":12,"v":0.0760},
{"p":"F","g":"K 3","s":1,"v":0.0520},{"p":"F","g":"K 3","s":2,"v":0.1330},{"p":"F","g":"K 3","s":3,"v":0.1040},{"p":"F","g":"K 3","s":4,"v":0.0880},{"p":"F","g":"K 3","s":5,"v":0.0810},{"p":"F","g":"K 3","s":6,"v":0.0580},{"p":"F","g":"K 3","s":7,"v":0.0770},{"p":"F","g":"K 3","s":8,"v":0.0630},{"p":"F","g":"K 3","s":9,"v":0.1060},{"p":"F","g":"K 3","s":10,"v":0.1060},{"p":"F","g":"K 3","s":11,"v":0.0820},{"p":"F","g":"K 3","s":12,"v":0.0820},
{"p":"F","g":"K 4","s":1,"v":0.0600},{"p":"F","g":"K 4","s":2,"v":0.1350},{"p":"F","g":"K 4","s":3,"v":0.1060},{"p":"F","g":"K 4","s":4,"v":0.0830},{"p":"F","g":"K 4","s":5,"v":0.0900},{"p":"F","g":"K 4","s":6,"v":0.0670},{"p":"F","g":"K 4","s":7,"v":0.0850},{"p":"F","g":"K 4","s":8,"v":0.0720},{"p":"F","g":"K 4","s":9,"v":0.1100},{"p":"F","g":"K 4","s":10,"v":0.1070},{"p":"F","g":"K 4","s":11,"v":0.1010},{"p":"F","g":"K 4","s":12,"v":0.0780},
{"p":"F","g":"PK 1","s":1,"v":0.0300},{"p":"F","g":"PK 1","s":2,"v":0.0500},{"p":"F","g":"PK 1","s":3,"v":0.0790},{"p":"F","g":"PK 1","s":4,"v":0.0650},{"p":"F","g":"PK 1","s":5,"v":0.0370},{"p":"F","g":"PK 1","s":6,"v":0.0290},{"p":"F","g":"PK 1","s":7,"v":0.0430},{"p":"F","g":"PK 1","s":8,"v":0.0330},{"p":"F","g":"PK 1","s":9,"v":0.0420},{"p":"F","g":"PK 1","s":10,"v":0.0350},{"p":"F","g":"PK 1","s":11,"v":0.0400},{"p":"F","g":"PK 1","s":12,"v":0.0570},
{"p":"F","g":"PK 2","s":1,"v":0.0310},{"p":"F","g":"PK 2","s":2,"v":0.0520},{"p":"F","g":"PK 2","s":3,"v":0.0680},{"p":"F","g":"PK 2","s":4,"v":0.0530},{"p":"F","g":"PK 2","s":5,"v":0.0360},{"p":"F","g":"PK 2","s":6,"v":0.0310},{"p":"F","g":"PK 2","s":7,"v":0.0500},{"p":"F","g":"PK 2","s":8,"v":0.0310},{"p":"F","g":"PK 2","s":9,"v":0.0450},{"p":"F","g":"PK 2","s":10,"v":0.0420},{"p":"F","g":"PK 2","s":11,"v":0.0470},{"p":"F","g":"PK 2","s":12,"v":0.0330},
{"p":"F","g":"PK 3","s":1,"v":0.0540},{"p":"F","g":"PK 3","s":2,"v":0.0490},{"p":"F","g":"PK 3","s":3,"v":0.0630},{"p":"F","g":"PK 3","s":4,"v":0.0580},{"p":"F","g":"PK 3","s":5,"v":0.0390},{"p":"F","g":"PK 3","s":6,"v":0.0370},{"p":"F","g":"PK 3","s":7,"v":0.0460},{"p":"F","g":"PK 3","s":8,"v":0.0320},{"p":"F","g":"PK 3","s":9,"v":0.0610},{"p":"F","g":"PK 3","s":10,"v":0.0400},{"p":"F","g":"PK 3","s":11,"v":0.0560},{"p":"F","g":"PK 3","s":12,"v":0.0510},
{"p":"F","g":"PK 4","s":1,"v":0.0330},{"p":"F","g":"PK 4","s":2,"v":0.0500},{"p":"F","g":"PK 4","s":3,"v":0.0650},{"p":"F","g":"PK 4","s":4,"v":0.0570},{"p":"F","g":"PK 4","s":5,"v":0.0350},{"p":"F","g":"PK 4","s":6,"v":0.0300},{"p":"F","g":"PK 4","s":7,"v":0.0450},{"p":"F","g":"PK 4","s":8,"v":0.0310},{"p":"F","g":"PK 4","s":9,"v":0.0450},{"p":"F","g":"PK 4","s":10,"v":0.0340},{"p":"F","g":"PK 4","s":11,"v":0.0360},{"p":"F","g":"PK 4","s":12,"v":0.0490}
],
"br":[
{"p":"A","a":"K 1","b":"K 4","m":"K 2","y":0.0191,"yl":0.0143,"yr":0.0180,"t":"*","ty":0.0211},
{"p":"A","a":"PK 1","b":"PK 4","m":"PK 2","y":0.0175,"yl":0.0137,"yr":0.0152,"t":"#","ty":0.0193},
{"p":"B","a":"K 1","b":"K 4","m":"K 2","y":0.0149,"yl":0.0135,"yr":0.0135,"t":"*","ty":0.0168},
{"p":"B","a":"PK 1","b":"PK 4","m":"PK 2","y":0.0149,"yl":0.0135,"yr":0.0135,"t":"#","ty":0.0166},
{"p":"C","a":"K 1","b":"K 4","m":"K 2","y":0.0385,"yl":0.0352,"yr":0.0300,"t":"*","ty":0.0418},
{"p":"C","a":"PK 1","b":"PK 4","m":"PK 2","y":0.0385,"yl":0.0322,"yr":0.0361,"t":"* #","ty":0.0413},
{"p":"D","a":"K 1","b":"K 4","m":"K 2","y":0.0430,"yl":0.0407,"yr":0.0371,"t":"*","ty":0.0461},
{"p":"D","a":"PK 1","b":"PK 4","m":"PK 2","y":0.0430,"yl":0.0357,"yr":0.0409,"t":"* #","ty":0.0457},
{"p":"E","a":"K 1","b":"K 4","m":"K 2","y":0.1271,"yl":0.1044,"yr":0.1198,"t":"*","ty":0.1375},
{"p":"E","a":"PK 1","b":"PK 4","m":"PK 2","y":0.0750,"yl":0.0711,"yr":0.0659,"t":"#","ty":0.0854},
{"p":"F","a":"K 1","b":"K 4","m":"K 2","y":0.1440,"yl":0.1336,"yr":0.1414,"t":"*","ty":0.1530},
{"p":"F","a":"PK 1","b":"PK 4","m":"PK 2","y":0.0919,"yl":0.0854,"yr":0.0763,"t":"#","ty":0.1010}
]
},
"spacing":32,
"vconcat":[
{"spacing":53,"hconcat":[
{"title":{"text":"A","orient":"left","anchor":"end","angle":0,"baseline":"top","fontSize":22,"fontWeight":"bold","color":"#000","offset":-20},
 "vconcat":[{"width":286,"height":192,"title":{"text":"Low Gamma - Feedback","color":"#2a3c9c"},
 "resolve":{"scale":{"color":"independent"}},
 "layer":[
  {"data":{"name":"pts"},"transform":[{"filter":"datum.p=='A'"}],"mark":{"type":"boxplot","extent":"min-max"},
   "encoding":{"x":{"field":"g","type":"nominal","title":null,"scale":{"domain":["W1","W2","W3","W4","K 1","K 2","K 3","K 4","PK 1","PK 2","PK 3","PK 4"],"paddingInner":0.2,"paddingOuter":0.3}},
    "y":{"field":"v","type":"quantitative","title":"NSTE","scale":{"domain":[0,0.025],"nice":false},"axis":{"values":[0,0.005,0.01,0.015,0.02,0.025],"format":".3f"}},
    "color":{"field":"g","type":"nominal","legend":null,"scale":{"domain":["W1","W2","W3","W4","K 1","K 2","K 3","K 4","PK 1","PK 2","PK 3","PK 4"],"range":["#c6dcf0","#c6dcf0","#c6dcf0","#c6dcf0","#f6bad6","#f6bad6","#f6bad6","#f6bad6","#f5a040","#f5a040","#f5a040","#f5a040"]}}}},
  {"data":{"name":"pts"},"transform":[{"filter":"datum.p=='A'"}],"mark":{"type":"circle","size":45,"opacity":1,"stroke":"#444","strokeWidth":0.6},
   "encoding":{"x":{"field":"g","type":"nominal","title":null,"scale":{"domain":["W1","W2","W3","W4","K 1","K 2","K 3","K 4","PK 1","PK 2","PK 3","PK 4"],"paddingInner":0.2,"paddingOuter":0.3}},
    "xOffset":{"field":"s","type":"nominal","scale":{"domain":[5,10,2,9,6,1,8,4,12,3,11,7]}},
    "y":{"field":"v","type":"quantitative","title":"NSTE","axis":{"values":[0,0.005,0.01,0.015,0.02,0.025],"format":".3f"}},
    "fill":{"field":"s","type":"nominal","legend":null,"scale":{"domain":[1,2,3,4,5,6,7,8,9,10,11,12],"range":["#c48bc8","#ed1c24","#a4162c","#231f20","#22a34a","#fff200","#2b4aa0","#8cb5e4","#80409a","#f26522","#d35fa6","#9d96d4"]}}}},
  {"data":{"name":"br"},"transform":[{"filter":"datum.p=='A'"}],"mark":{"type":"rule","color":"#777","strokeWidth":1.2},
   "encoding":{"x":{"field":"a","type":"nominal","title":null},"x2":{"field":"b"},"y":{"field":"y","type":"quantitative","title":"NSTE","axis":{"values":[0,0.005,0.01,0.015,0.02,0.025],"format":".3f"}}}},
  {"data":{"name":"br"},"transform":[{"filter":"datum.p=='A'"}],"mark":{"type":"rule","color":"#777","strokeWidth":1.2},
   "encoding":{"x":{"field":"a","type":"nominal","title":null},"y":{"field":"yl","type":"quantitative","title":"NSTE","axis":{"values":[0,0.005,0.01,0.015,0.02,0.025],"format":".3f"}},"y2":{"field":"y"}}},
  {"data":{"name":"br"},"transform":[{"filter":"datum.p=='A'"}],"mark":{"type":"rule","color":"#777","strokeWidth":1.2},
   "encoding":{"x":{"field":"b","type":"nominal","title":null},"y":{"field":"yr","type":"quantitative","title":"NSTE","axis":{"values":[0,0.005,0.01,0.015,0.02,0.025],"format":".3f"}},"y2":{"field":"y"}}},
  {"data":{"name":"br"},"transform":[{"filter":"datum.p=='A'"}],"mark":{"type":"text","dx":12,"fontSize":17,"baseline":"middle","color":"#222"},
   "encoding":{"x":{"field":"m","type":"nominal","title":null},"y":{"field":"ty","type":"quantitative","title":"NSTE","axis":{"values":[0,0.005,0.01,0.015,0.02,0.025],"format":".3f"}},"text":{"field":"t"}}}
 ]}]},
{"title":{"text":"B","orient":"left","anchor":"end","angle":0,"baseline":"top","fontSize":22,"fontWeight":"bold","color":"#000","offset":-20},
 "vconcat":[{"width":286,"height":192,"title":{"text":"Low Gamma - Feedforward","color":"#ee2a24"},
 "resolve":{"scale":{"color":"independent"}},
 "layer":[
  {"data":{"name":"pts"},"transform":[{"filter":"datum.p=='B'"}],"mark":{"type":"boxplot","extent":"min-max"},
   "encoding":{"x":{"field":"g","type":"nominal","title":null,"scale":{"domain":["W1","W2","W3","W4","K 1","K 2","K 3","K 4","PK 1","PK 2","PK 3","PK 4"],"paddingInner":0.2,"paddingOuter":0.3}},
    "y":{"field":"v","type":"quantitative","title":"NSTE","scale":{"domain":[0,0.025],"nice":false},"axis":{"values":[0,0.005,0.01,0.015,0.02,0.025],"format":".3f"}},
    "color":{"field":"g","type":"nominal","legend":null,"scale":{"domain":["W1","W2","W3","W4","K 1","K 2","K 3","K 4","PK 1","PK 2","PK 3","PK 4"],"range":["#c6dcf0","#c6dcf0","#c6dcf0","#c6dcf0","#f6bad6","#f6bad6","#f6bad6","#f6bad6","#f5a040","#f5a040","#f5a040","#f5a040"]}}}},
  {"data":{"name":"pts"},"transform":[{"filter":"datum.p=='B'"}],"mark":{"type":"circle","size":45,"opacity":1,"stroke":"#444","strokeWidth":0.6},
   "encoding":{"x":{"field":"g","type":"nominal","title":null,"scale":{"domain":["W1","W2","W3","W4","K 1","K 2","K 3","K 4","PK 1","PK 2","PK 3","PK 4"],"paddingInner":0.2,"paddingOuter":0.3}},
    "xOffset":{"field":"s","type":"nominal","scale":{"domain":[5,10,2,9,6,1,8,4,12,3,11,7]}},
    "y":{"field":"v","type":"quantitative","title":"NSTE","axis":{"values":[0,0.005,0.01,0.015,0.02,0.025],"format":".3f"}},
    "fill":{"field":"s","type":"nominal","legend":null,"scale":{"domain":[1,2,3,4,5,6,7,8,9,10,11,12],"range":["#c48bc8","#ed1c24","#a4162c","#231f20","#22a34a","#fff200","#2b4aa0","#8cb5e4","#80409a","#f26522","#d35fa6","#9d96d4"]}}}},
  {"data":{"name":"br"},"transform":[{"filter":"datum.p=='B'"}],"mark":{"type":"rule","color":"#777","strokeWidth":1.2},
   "encoding":{"x":{"field":"a","type":"nominal","title":null},"x2":{"field":"b"},"y":{"field":"y","type":"quantitative","title":"NSTE","axis":{"values":[0,0.005,0.01,0.015,0.02,0.025],"format":".3f"}}}},
  {"data":{"name":"br"},"transform":[{"filter":"datum.p=='B'"}],"mark":{"type":"rule","color":"#777","strokeWidth":1.2},
   "encoding":{"x":{"field":"a","type":"nominal","title":null},"y":{"field":"yl","type":"quantitative","title":"NSTE","axis":{"values":[0,0.005,0.01,0.015,0.02,0.025],"format":".3f"}},"y2":{"field":"y"}}},
  {"data":{"name":"br"},"transform":[{"filter":"datum.p=='B'"}],"mark":{"type":"rule","color":"#777","strokeWidth":1.2},
   "encoding":{"x":{"field":"b","type":"nominal","title":null},"y":{"field":"yr","type":"quantitative","title":"NSTE","axis":{"values":[0,0.005,0.01,0.015,0.02,0.025],"format":".3f"}},"y2":{"field":"y"}}},
  {"data":{"name":"br"},"transform":[{"filter":"datum.p=='B'"}],"mark":{"type":"text","dx":12,"fontSize":17,"baseline":"middle","color":"#222"},
   "encoding":{"x":{"field":"m","type":"nominal","title":null},"y":{"field":"ty","type":"quantitative","title":"NSTE","axis":{"values":[0,0.005,0.01,0.015,0.02,0.025],"format":".3f"}},"text":{"field":"t"}}}
 ]}]}
]},
{"spacing":53,"hconcat":[
{"title":{"text":"C","orient":"left","anchor":"end","angle":0,"baseline":"top","fontSize":22,"fontWeight":"bold","color":"#000","offset":-20},
 "vconcat":[{"width":286,"height":192,"title":{"text":"Mid Gamma - Feedback","color":"#2a3c9c"},
 "resolve":{"scale":{"color":"independent"}},
 "layer":[
  {"data":{"name":"pts"},"transform":[{"filter":"datum.p=='C'"}],"mark":{"type":"boxplot","extent":"min-max"},
   "encoding":{"x":{"field":"g","type":"nominal","title":null,"scale":{"domain":["W1","W2","W3","W4","K 1","K 2","K 3","K 4","PK 1","PK 2","PK 3","PK 4"],"paddingInner":0.2,"paddingOuter":0.3}},
    "y":{"field":"v","type":"quantitative","title":"NSTE","scale":{"domain":[0,0.05],"nice":false},"axis":{"values":[0,0.01,0.02,0.03,0.04,0.05],"format":".2f"}},
    "color":{"field":"g","type":"nominal","legend":null,"scale":{"domain":["W1","W2","W3","W4","K 1","K 2","K 3","K 4","PK 1","PK 2","PK 3","PK 4"],"range":["#c6dcf0","#c6dcf0","#c6dcf0","#c6dcf0","#f6bad6","#f6bad6","#f6bad6","#f6bad6","#f5a040","#f5a040","#f5a040","#f5a040"]}}}},
  {"data":{"name":"pts"},"transform":[{"filter":"datum.p=='C'"}],"mark":{"type":"circle","size":45,"opacity":1,"stroke":"#444","strokeWidth":0.6},
   "encoding":{"x":{"field":"g","type":"nominal","title":null,"scale":{"domain":["W1","W2","W3","W4","K 1","K 2","K 3","K 4","PK 1","PK 2","PK 3","PK 4"],"paddingInner":0.2,"paddingOuter":0.3}},
    "xOffset":{"field":"s","type":"nominal","scale":{"domain":[5,10,2,9,6,1,8,4,12,3,11,7]}},
    "y":{"field":"v","type":"quantitative","title":"NSTE","axis":{"values":[0,0.01,0.02,0.03,0.04,0.05],"format":".2f"}},
    "fill":{"field":"s","type":"nominal","legend":null,"scale":{"domain":[1,2,3,4,5,6,7,8,9,10,11,12],"range":["#c48bc8","#ed1c24","#a4162c","#231f20","#22a34a","#fff200","#2b4aa0","#8cb5e4","#80409a","#f26522","#d35fa6","#9d96d4"]}}}},
  {"data":{"name":"br"},"transform":[{"filter":"datum.p=='C'"}],"mark":{"type":"rule","color":"#777","strokeWidth":1.2},
   "encoding":{"x":{"field":"a","type":"nominal","title":null},"x2":{"field":"b"},"y":{"field":"y","type":"quantitative","title":"NSTE","axis":{"values":[0,0.01,0.02,0.03,0.04,0.05],"format":".2f"}}}},
  {"data":{"name":"br"},"transform":[{"filter":"datum.p=='C'"}],"mark":{"type":"rule","color":"#777","strokeWidth":1.2},
   "encoding":{"x":{"field":"a","type":"nominal","title":null},"y":{"field":"yl","type":"quantitative","title":"NSTE","axis":{"values":[0,0.01,0.02,0.03,0.04,0.05],"format":".2f"}},"y2":{"field":"y"}}},
  {"data":{"name":"br"},"transform":[{"filter":"datum.p=='C'"}],"mark":{"type":"rule","color":"#777","strokeWidth":1.2},
   "encoding":{"x":{"field":"b","type":"nominal","title":null},"y":{"field":"yr","type":"quantitative","title":"NSTE","axis":{"values":[0,0.01,0.02,0.03,0.04,0.05],"format":".2f"}},"y2":{"field":"y"}}},
  {"data":{"name":"br"},"transform":[{"filter":"datum.p=='C'"}],"mark":{"type":"text","dx":12,"fontSize":17,"baseline":"middle","color":"#222"},
   "encoding":{"x":{"field":"m","type":"nominal","title":null},"y":{"field":"ty","type":"quantitative","title":"NSTE","axis":{"values":[0,0.01,0.02,0.03,0.04,0.05],"format":".2f"}},"text":{"field":"t"}}}
 ]}]},
{"title":{"text":"D","orient":"left","anchor":"end","angle":0,"baseline":"top","fontSize":22,"fontWeight":"bold","color":"#000","offset":-20},
 "vconcat":[{"width":286,"height":192,"title":{"text":"Mid Gamma - Feedforward","color":"#ee2a24"},
 "resolve":{"scale":{"color":"independent"}},
 "layer":[
  {"data":{"name":"pts"},"transform":[{"filter":"datum.p=='D'"}],"mark":{"type":"boxplot","extent":"min-max"},
   "encoding":{"x":{"field":"g","type":"nominal","title":null,"scale":{"domain":["W1","W2","W3","W4","K 1","K 2","K 3","K 4","PK 1","PK 2","PK 3","PK 4"],"paddingInner":0.2,"paddingOuter":0.3}},
    "y":{"field":"v","type":"quantitative","title":"NSTE","scale":{"domain":[0,0.05],"nice":false},"axis":{"values":[0,0.01,0.02,0.03,0.04,0.05],"format":".2f"}},
    "color":{"field":"g","type":"nominal","legend":null,"scale":{"domain":["W1","W2","W3","W4","K 1","K 2","K 3","K 4","PK 1","PK 2","PK 3","PK 4"],"range":["#c6dcf0","#c6dcf0","#c6dcf0","#c6dcf0","#f6bad6","#f6bad6","#f6bad6","#f6bad6","#f5a040","#f5a040","#f5a040","#f5a040"]}}}},
  {"data":{"name":"pts"},"transform":[{"filter":"datum.p=='D'"}],"mark":{"type":"circle","size":45,"opacity":1,"stroke":"#444","strokeWidth":0.6},
   "encoding":{"x":{"field":"g","type":"nominal","title":null,"scale":{"domain":["W1","W2","W3","W4","K 1","K 2","K 3","K 4","PK 1","PK 2","PK 3","PK 4"],"paddingInner":0.2,"paddingOuter":0.3}},
    "xOffset":{"field":"s","type":"nominal","scale":{"domain":[5,10,2,9,6,1,8,4,12,3,11,7]}},
    "y":{"field":"v","type":"quantitative","title":"NSTE","axis":{"values":[0,0.01,0.02,0.03,0.04,0.05],"format":".2f"}},
    "fill":{"field":"s","type":"nominal","legend":null,"scale":{"domain":[1,2,3,4,5,6,7,8,9,10,11,12],"range":["#c48bc8","#ed1c24","#a4162c","#231f20","#22a34a","#fff200","#2b4aa0","#8cb5e4","#80409a","#f26522","#d35fa6","#9d96d4"]}}}},
  {"data":{"name":"br"},"transform":[{"filter":"datum.p=='D'"}],"mark":{"type":"rule","color":"#777","strokeWidth":1.2},
   "encoding":{"x":{"field":"a","type":"nominal","title":null},"x2":{"field":"b"},"y":{"field":"y","type":"quantitative","title":"NSTE","axis":{"values":[0,0.01,0.02,0.03,0.04,0.05],"format":".2f"}}}},
  {"data":{"name":"br"},"transform":[{"filter":"datum.p=='D'"}],"mark":{"type":"rule","color":"#777","strokeWidth":1.2},
   "encoding":{"x":{"field":"a","type":"nominal","title":null},"y":{"field":"yl","type":"quantitative","title":"NSTE","axis":{"values":[0,0.01,0.02,0.03,0.04,0.05],"format":".2f"}},"y2":{"field":"y"}}},
  {"data":{"name":"br"},"transform":[{"filter":"datum.p=='D'"}],"mark":{"type":"rule","color":"#777","strokeWidth":1.2},
   "encoding":{"x":{"field":"b","type":"nominal","title":null},"y":{"field":"yr","type":"quantitative","title":"NSTE","axis":{"values":[0,0.01,0.02,0.03,0.04,0.05],"format":".2f"}},"y2":{"field":"y"}}},
  {"data":{"name":"br"},"transform":[{"filter":"datum.p=='D'"}],"mark":{"type":"text","dx":12,"fontSize":17,"baseline":"middle","color":"#222"},
   "encoding":{"x":{"field":"m","type":"nominal","title":null},"y":{"field":"ty","type":"quantitative","title":"NSTE","axis":{"values":[0,0.01,0.02,0.03,0.04,0.05],"format":".2f"}},"text":{"field":"t"}}}
 ]}]}
]},
{"spacing":53,"hconcat":[
{"title":{"text":"E","orient":"left","anchor":"end","angle":0,"baseline":"top","fontSize":22,"fontWeight":"bold","color":"#000","offset":-20},
 "vconcat":[{"width":286,"height":192,"title":{"text":"High Gamma - Feedback","color":"#2a3c9c","offset":12},
 "resolve":{"scale":{"color":"independent"}},
 "layer":[
  {"data":{"name":"pts"},"transform":[{"filter":"datum.p=='E'"}],"mark":{"type":"boxplot","extent":"min-max"},
   "encoding":{"x":{"field":"g","type":"nominal","title":null,"scale":{"domain":["W1","W2","W3","W4","K 1","K 2","K 3","K 4","PK 1","PK 2","PK 3","PK 4"],"paddingInner":0.2,"paddingOuter":0.3}},
    "y":{"field":"v","type":"quantitative","title":"NSTE","scale":{"domain":[0,0.15],"nice":false},"axis":{"values":[0,0.05,0.1,0.15],"format":".2f"}},
    "color":{"field":"g","type":"nominal","legend":null,"scale":{"domain":["W1","W2","W3","W4","K 1","K 2","K 3","K 4","PK 1","PK 2","PK 3","PK 4"],"range":["#c6dcf0","#c6dcf0","#c6dcf0","#c6dcf0","#f6bad6","#f6bad6","#f6bad6","#f6bad6","#f5a040","#f5a040","#f5a040","#f5a040"]}}}},
  {"data":{"name":"pts"},"transform":[{"filter":"datum.p=='E'"}],"mark":{"type":"circle","size":45,"opacity":1,"stroke":"#444","strokeWidth":0.6},
   "encoding":{"x":{"field":"g","type":"nominal","title":null,"scale":{"domain":["W1","W2","W3","W4","K 1","K 2","K 3","K 4","PK 1","PK 2","PK 3","PK 4"],"paddingInner":0.2,"paddingOuter":0.3}},
    "xOffset":{"field":"s","type":"nominal","scale":{"domain":[5,10,2,9,6,1,8,4,12,3,11,7]}},
    "y":{"field":"v","type":"quantitative","title":"NSTE","axis":{"values":[0,0.05,0.1,0.15],"format":".2f"}},
    "fill":{"field":"s","type":"nominal","legend":null,"scale":{"domain":[1,2,3,4,5,6,7,8,9,10,11,12],"range":["#c48bc8","#ed1c24","#a4162c","#231f20","#22a34a","#fff200","#2b4aa0","#8cb5e4","#80409a","#f26522","#d35fa6","#9d96d4"]}}}},
  {"data":{"name":"br"},"transform":[{"filter":"datum.p=='E'"}],"mark":{"type":"rule","color":"#777","strokeWidth":1.2},
   "encoding":{"x":{"field":"a","type":"nominal","title":null},"x2":{"field":"b"},"y":{"field":"y","type":"quantitative","title":"NSTE","axis":{"values":[0,0.05,0.1,0.15],"format":".2f"}}}},
  {"data":{"name":"br"},"transform":[{"filter":"datum.p=='E'"}],"mark":{"type":"rule","color":"#777","strokeWidth":1.2},
   "encoding":{"x":{"field":"a","type":"nominal","title":null},"y":{"field":"yl","type":"quantitative","title":"NSTE","axis":{"values":[0,0.05,0.1,0.15],"format":".2f"}},"y2":{"field":"y"}}},
  {"data":{"name":"br"},"transform":[{"filter":"datum.p=='E'"}],"mark":{"type":"rule","color":"#777","strokeWidth":1.2},
   "encoding":{"x":{"field":"b","type":"nominal","title":null},"y":{"field":"yr","type":"quantitative","title":"NSTE","axis":{"values":[0,0.05,0.1,0.15],"format":".2f"}},"y2":{"field":"y"}}},
  {"data":{"name":"br"},"transform":[{"filter":"datum.p=='E'"}],"mark":{"type":"text","dx":12,"fontSize":17,"baseline":"middle","color":"#222"},
   "encoding":{"x":{"field":"m","type":"nominal","title":null},"y":{"field":"ty","type":"quantitative","title":"NSTE","axis":{"values":[0,0.05,0.1,0.15],"format":".2f"}},"text":{"field":"t"}}}
 ]}]},
{"title":{"text":"F","orient":"left","anchor":"end","angle":0,"baseline":"top","fontSize":22,"fontWeight":"bold","color":"#000","offset":-20},
 "vconcat":[{"width":286,"height":192,"title":{"text":"High Gamma - Feedforward","color":"#ee2a24","offset":8},
 "resolve":{"scale":{"color":"independent"}},
 "layer":[
  {"data":{"name":"pts"},"transform":[{"filter":"datum.p=='F'"}],"mark":{"type":"boxplot","extent":"min-max"},
   "encoding":{"x":{"field":"g","type":"nominal","title":null,"scale":{"domain":["W1","W2","W3","W4","K 1","K 2","K 3","K 4","PK 1","PK 2","PK 3","PK 4"],"paddingInner":0.2,"paddingOuter":0.3}},
    "y":{"field":"v","type":"quantitative","title":"NSTE","scale":{"domain":[0,0.15],"nice":false},"axis":{"values":[0,0.05,0.1,0.15],"format":".2f"}},
    "color":{"field":"g","type":"nominal","legend":null,"scale":{"domain":["W1","W2","W3","W4","K 1","K 2","K 3","K 4","PK 1","PK 2","PK 3","PK 4"],"range":["#c6dcf0","#c6dcf0","#c6dcf0","#c6dcf0","#f6bad6","#f6bad6","#f6bad6","#f6bad6","#f5a040","#f5a040","#f5a040","#f5a040"]}}}},
  {"data":{"name":"pts"},"transform":[{"filter":"datum.p=='F'"}],"mark":{"type":"circle","size":45,"opacity":1,"stroke":"#444","strokeWidth":0.6},
   "encoding":{"x":{"field":"g","type":"nominal","title":null,"scale":{"domain":["W1","W2","W3","W4","K 1","K 2","K 3","K 4","PK 1","PK 2","PK 3","PK 4"],"paddingInner":0.2,"paddingOuter":0.3}},
    "xOffset":{"field":"s","type":"nominal","scale":{"domain":[5,10,2,9,6,1,8,4,12,3,11,7]}},
    "y":{"field":"v","type":"quantitative","title":"NSTE","axis":{"values":[0,0.05,0.1,0.15],"format":".2f"}},
    "fill":{"field":"s","type":"nominal","legend":null,"scale":{"domain":[1,2,3,4,5,6,7,8,9,10,11,12],"range":["#c48bc8","#ed1c24","#a4162c","#231f20","#22a34a","#fff200","#2b4aa0","#8cb5e4","#80409a","#f26522","#d35fa6","#9d96d4"]}}}},
  {"data":{"name":"br"},"transform":[{"filter":"datum.p=='F'"}],"mark":{"type":"rule","color":"#777","strokeWidth":1.2},
   "encoding":{"x":{"field":"a","type":"nominal","title":null},"x2":{"field":"b"},"y":{"field":"y","type":"quantitative","title":"NSTE","axis":{"values":[0,0.05,0.1,0.15],"format":".2f"}}}},
  {"data":{"name":"br"},"transform":[{"filter":"datum.p=='F'"}],"mark":{"type":"rule","color":"#777","strokeWidth":1.2},
   "encoding":{"x":{"field":"a","type":"nominal","title":null},"y":{"field":"yl","type":"quantitative","title":"NSTE","axis":{"values":[0,0.05,0.1,0.15],"format":".2f"}},"y2":{"field":"y"}}},
  {"data":{"name":"br"},"transform":[{"filter":"datum.p=='F'"}],"mark":{"type":"rule","color":"#777","strokeWidth":1.2},
   "encoding":{"x":{"field":"b","type":"nominal","title":null},"y":{"field":"yr","type":"quantitative","title":"NSTE","axis":{"values":[0,0.05,0.1,0.15],"format":".2f"}},"y2":{"field":"y"}}},
  {"data":{"name":"br"},"transform":[{"filter":"datum.p=='F'"}],"mark":{"type":"text","dx":12,"fontSize":17,"baseline":"middle","color":"#222"},
   "encoding":{"x":{"field":"m","type":"nominal","title":null},"y":{"field":"ty","type":"quantitative","title":"NSTE","axis":{"values":[0,0.05,0.1,0.15],"format":".2f"}},"text":{"field":"t"}}}
 ]}]}
]}
],
"config":{
 "font":"Liberation Sans",
 "view":{"stroke":null},
 "axis":{"domainColor":"#7a7a7a","tickColor":"#7a7a7a","labelColor":"#222","titleColor":"#222","grid":false,"tickSize":8,"domainWidth":1.2,"tickWidth":1.2,"labelPadding":2},
 "axisY":{"labelFontSize":18,"titleFontSize":17,"titleFontWeight":"normal","titlePadding":6,"labelOverlap":false},
 "axisX":{"labelFontSize":15,"labelAngle":-45},
 "title":{"fontSize":17,"fontWeight":"bold","anchor":"middle","offset":14},
 "boxplot":{"size":16,"box":{"stroke":"#555","strokeWidth":1},"median":{"color":"#555","strokeWidth":1},"rule":{"color":"#8c8c8c","strokeWidth":1.5},"ticks":{"color":"#8c8c8c","size":6}}
}
}
